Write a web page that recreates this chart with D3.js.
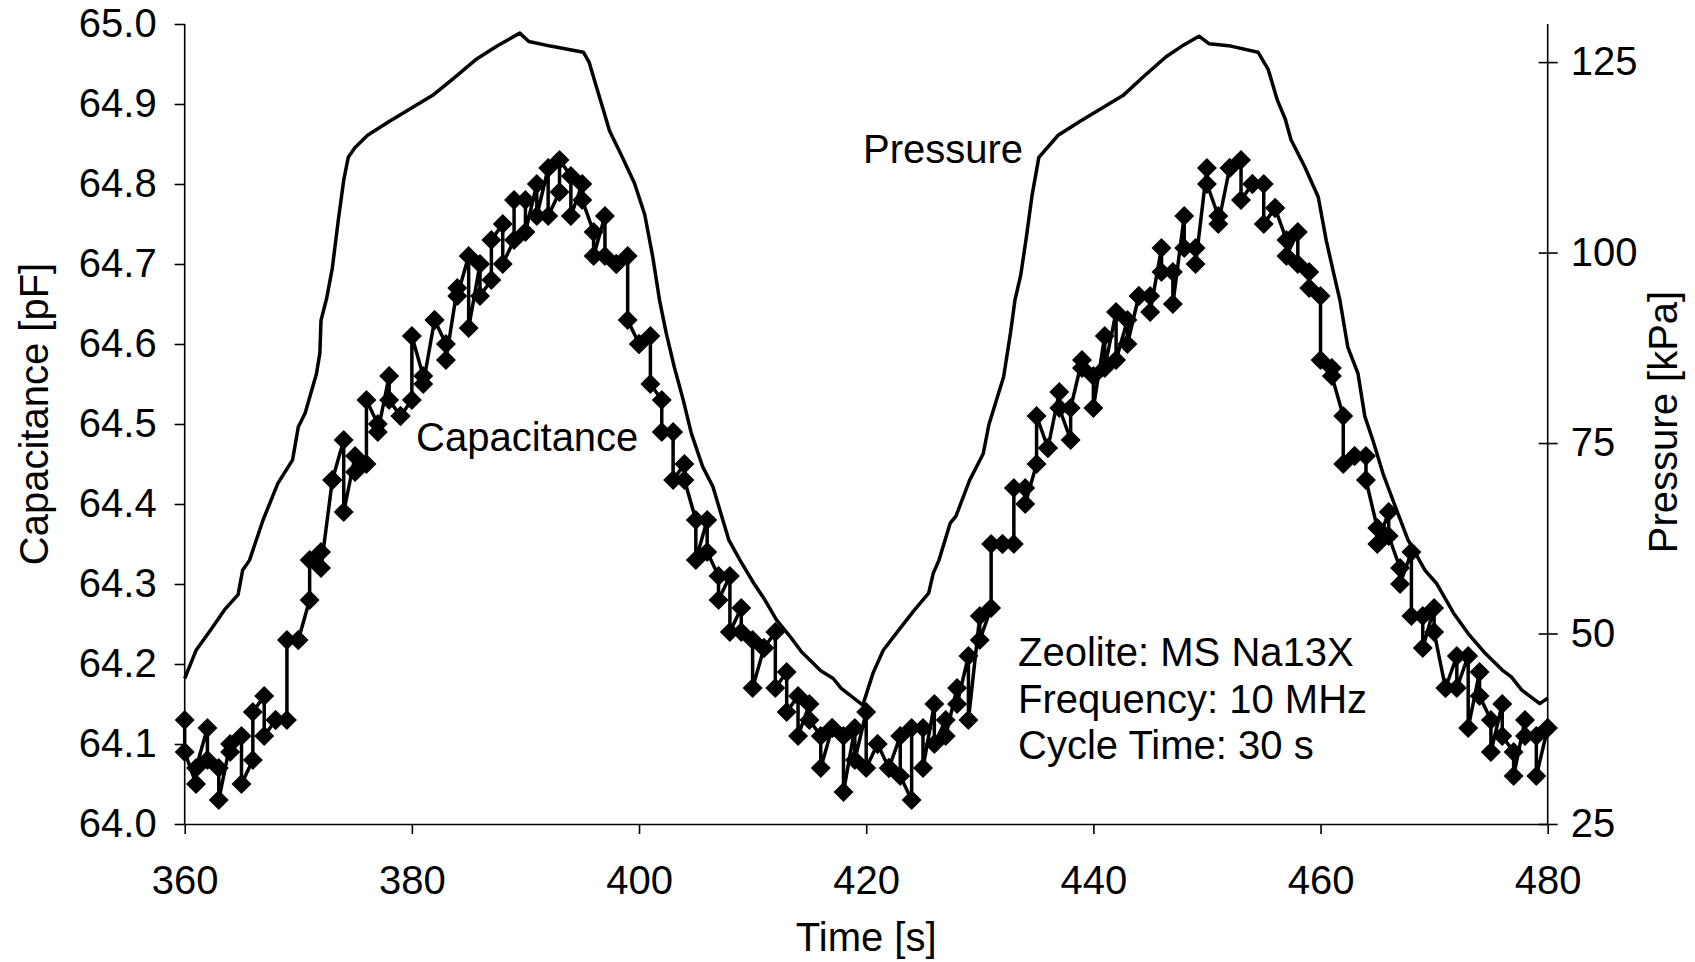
<!DOCTYPE html>
<html>
<head>
<meta charset="utf-8">
<script src="https://cdn.jsdelivr.net/npm/d3@7/dist/d3.min.js"></script>
<style>
  body { margin: 0; background: #fff; }
  svg text { font-family: "Liberation Sans", Arial, sans-serif; fill: #000; }
</style>
</head>
<body>
<div id="chart"></div>
<script>
// time in seconds, two capacitance readings per second
var capTime = [360,361,362,363,364,365,366,367,368,369,370,371,372,373,374,375,376,377,378,379,
    380,381,382,383,384,385,386,387,388,389,390,391,392,393,394,395,396,397,398,399,
    400,401,402,403,404,405,406,407,408,409,410,411,412,413,414,415,416,417,418,419,
    420,421,422,423,424,425,426,427,428,429,430,431,432,433,434,435,436,437,438,439,
    440,441,442,443,444,445,446,447,448,449,450,451,452,453,454,455,456,457,458,459,
    460,461,462,463,464,465,466,467,468,469,470,471,472,473,474,475,476,477,478,479,480];
var capFirst = [64.13,64.05,64.12,64.07,64.10,64.11,64.08,64.16,64.13,64.13,64.23,64.28,64.34,64.43,64.48,64.46,64.45,64.50,64.56,64.51,
    64.53,64.56,64.63,64.60,64.67,64.71,64.70,64.68,64.75,64.73,64.78,64.80,64.82,64.79,64.81,64.80,64.74,64.76,64.70,64.71,
    64.60,64.61,64.53,64.49,64.45,64.38,64.38,64.31,64.31,64.27,64.23,64.22,64.24,64.19,64.16,64.15,64.11,64.12,64.11,64.12,
    64.14,64.10,64.07,64.11,64.03,64.12,64.15,64.13,64.17,64.21,64.26,64.27,64.35,64.35,64.42,64.45,64.47,64.54,64.48,64.58,
    64.56,64.61,64.64,64.63,64.66,64.66,64.72,64.69,64.76,64.72,64.82,64.76,64.82,64.83,64.80,64.80,64.77,64.73,64.74,64.69,
    64.66,64.57,64.51,64.46,64.46,64.37,64.39,64.32,64.34,64.26,64.27,64.17,64.21,64.21,64.19,64.13,64.15,64.09,64.13,64.11,64.12];
var capSecond = [64.09,64.07,64.08,64.03,64.09,64.05,64.14,64.11,64.13,64.23,64.23,64.33,64.32,64.43,64.39,64.44,64.53,64.49,64.53,64.51,
    64.61,64.55,64.63,64.58,64.66,64.62,64.66,64.73,64.70,64.78,64.74,64.76,64.76,64.83,64.76,64.78,64.71,64.71,64.70,64.63,
    64.60,64.55,64.49,64.43,64.43,64.33,64.34,64.28,64.24,64.24,64.17,64.22,64.17,64.14,64.11,64.13,64.07,64.12,64.04,64.08,
    64.07,64.10,64.07,64.06,64.12,64.07,64.10,64.11,64.15,64.13,64.23,64.35,64.35,64.42,64.40,64.51,64.47,64.52,64.52,64.57,
    64.52,64.57,64.58,64.60,64.66,64.64,64.69,64.65,64.72,64.70,64.80,64.75,64.82,64.78,64.80,64.75,64.77,64.71,64.70,64.67,
    64.58,64.56,64.45,64.46,64.43,64.35,64.36,64.30,64.26,64.22,64.24,64.17,64.17,64.12,64.16,64.09,64.11,64.06,64.11,64.06,64.12];

// pressure trace (s, kPa)
var presTime = [360,361,362.3,363.5,364.7,365.1,365.7,366.9,368.2,369.5,370,370.6,371.6,371.9,372,372.5,373,373.5,374,374.4,
    375,376.1,378,379.9,381.8,383.7,385.6,387.5,389.5,390.3,392.2,395.1,395.6,396.2,396.8,397.4,398.5,399.6,400.5,401.2,
    401.8,402.4,403.1,403.9,404.6,405.6,406.5,407.2,407.9,408.9,410.1,411,412.1,413.3,414.3,416,417.1,417.8,419.7,420.6,
    421.5,423,424.2,425.5,425.9,426.4,427.4,427.9,429.1,430.3,430.8,432.1,432.7,433.1,433.6,434.1,434.6,435.2,436.9,438.8,
    440.7,442.6,444.5,446.4,447.8,449.3,450.2,452.1,454.5,455.4,456.2,456.9,457.4,458.6,459.8,460.5,461.2,461.7,462.4,463.3,
    463.9,464.6,465.5,466.8,467.7,469.2,470.2,471.7,473,474.5,476,476.8,477.7,479.3,480];
var presKPa = [44.1,47.8,50.5,53.1,55.1,58.3,59.6,64.9,69.7,72.8,77.1,78.9,84.1,86.8,91.1,94,98,104,109.5,112.5,
    113.8,115.4,117.2,118.9,120.6,122.9,125.3,127.1,128.8,127.7,127.1,126.3,125,122,119,116,112.6,109.1,105,99.5,
    93.8,89.4,85.0,80.6,76.3,71.9,69.3,65.8,62.3,59.6,56.6,54.6,51.8,49.6,47.6,45.1,44.1,42.8,40.6,44.8,
    47.8,50.7,53.0,55.3,57.9,59.6,64.5,65.4,70.1,73.6,77.4,83.7,89.4,93.8,97,102,107.5,112.5,115.4,117.2,
    118.9,120.6,123.2,125.7,127.1,128.4,127.4,127.1,126.3,124,120,117.5,114.8,111.3,107.3,101.6,97,93.8,87.6,84.1,
    78.5,75.4,71.0,65.8,62.3,58.3,56.6,52.7,50.0,47.4,45.2,44.3,42.6,40.8,41.5];

var xTicks = [360, 380, 400, 420, 440, 460, 480];
var capTicks = [64.0, 64.1, 64.2, 64.3, 64.4, 64.5, 64.6, 64.7, 64.8, 64.9, 65.0];
var presTicks = [25, 50, 75, 100, 125];
var noteLines = ["Zeolite: MS Na13X", "Frequency: 10 MHz", "Cycle Time: 30 s"];

var W = 1695, H = 962;
var plotLeft = 184.7, plotRight = 1547.7, plotTop = 24, plotBottom = 824;
var fs = 40;

var svg = d3.select("#chart").append("svg")
    .attr("width", W)
    .attr("height", H);
svg.append("rect").attr("width", W).attr("height", H).attr("fill", "#fff");

var x = d3.scaleLinear().domain([360, 480]).range([plotLeft, plotRight]);
var yCap = d3.scaleLinear().domain([64, 65]).range([plotBottom, plotTop]);
var yPres = d3.scaleLinear().domain([25, 130]).range([plotBottom, plotTop]);

// flatten the pairs into one ordered series
var capPts = [];
capTime.forEach(function(t, i) {
    capPts.push({t: t, v: capFirst[i]});
    capPts.push({t: t, v: capSecond[i]});
});
var presPts = presTime.map(function(t, i) { return {t: t, v: presKPa[i]}; });

// axes
var gx = svg.append("g")
    .attr("transform", "translate(0," + plotBottom + ")")
    .call(d3.axisBottom(x).tickValues(xTicks).tickSize(10).tickSizeOuter(0).tickPadding(32));
var gl = svg.append("g")
    .attr("transform", "translate(" + plotLeft + ",0)")
    .call(d3.axisLeft(yCap).tickValues(capTicks).tickFormat(d3.format(".1f"))
        .tickSize(10).tickSizeOuter(0).tickPadding(18));
var gr = svg.append("g")
    .attr("transform", "translate(" + plotRight + ",0)")
    .call(d3.axisRight(yPres).tickValues(presTicks).tickSize(10).tickSizeOuter(0).tickPadding(13));
gr.selectAll(".tick line").attr("x1", -9);

[gx, gl, gr].forEach(function(g) {
    g.selectAll("text").attr("font-size", fs).attr("font-family", "Liberation Sans, Arial, sans-serif").attr("fill", "#000");
    g.selectAll("line, path").attr("stroke", "#000").attr("stroke-width", 1.6);
});
gl.select(".domain").attr("d", "M0," + plotTop + "V" + plotBottom);
gr.select(".domain").attr("d", "M0," + plotTop + "V" + plotBottom);

// pressure line
svg.append("path")
    .datum(presPts)
    .attr("fill", "none")
    .attr("stroke", "#000")
    .attr("stroke-width", 3.5)
    .attr("stroke-linejoin", "round")
    .attr("d", d3.line().x(function(d) { return x(d.t); }).y(function(d) { return yPres(d.v); }));

// capacitance line + diamonds
svg.append("path")
    .datum(capPts)
    .attr("fill", "none")
    .attr("stroke", "#000")
    .attr("stroke-width", 3.5)
    .attr("stroke-linejoin", "round")
    .attr("d", d3.line().x(function(d) { return x(d.t); }).y(function(d) { return yCap(d.v); }));

var diamond = d3.symbol().type(d3.symbolSquare).size(200);
svg.append("g").selectAll("path")
    .data(capPts)
    .enter().append("path")
    .attr("d", diamond)
    .attr("fill", "#000")
    .attr("transform", function(d) {
        return "translate(" + x(d.t) + "," + yCap(d.v) + ") rotate(45)";
    });

// axis titles
svg.append("text")
    .attr("transform", "translate(48," + ((plotTop + plotBottom) / 2 - 10) + ") rotate(-90)")
    .attr("text-anchor", "middle")
    .attr("font-size", fs)
    .text("Capacitance [pF]");
svg.append("text")
    .attr("transform", "translate(1677," + ((plotTop + plotBottom) / 2 - 2) + ") rotate(-90)")
    .attr("text-anchor", "middle")
    .attr("font-size", fs)
    .text("Pressure [kPa]");
svg.append("text")
    .attr("x", (plotLeft + plotRight) / 2)
    .attr("y", 951)
    .attr("text-anchor", "middle")
    .attr("font-size", fs)
    .text("Time [s]");

// series labels
svg.append("text").attr("x", 863).attr("y", 163).attr("font-size", fs).text("Pressure");
svg.append("text").attr("x", 416).attr("y", 451).attr("font-size", fs).text("Capacitance");

svg.append("g").selectAll("text")
    .data(noteLines)
    .enter().append("text")
    .attr("x", 1018)
    .attr("y", function(d, i) { return 666 + i * 46.7; })
    .attr("font-size", fs)
    .text(function(d) { return d; });
</script>
</body>
</html>
